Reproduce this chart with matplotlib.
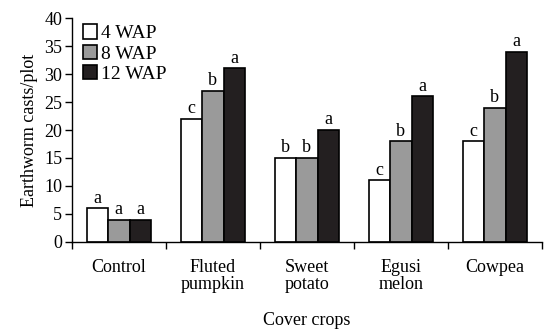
import matplotlib
matplotlib.use("Agg")
import matplotlib.pyplot as plt
import numpy as np
from matplotlib.patches import Patch

categories = ["Control", "Fluted\npumpkin", "Sweet\npotato", "Egusi\nmelon", "Cowpea"]
series_names = ["4 WAP", "8 WAP", "12 WAP"]
wap4 = [6, 22, 15, 11, 18]
wap8 = [4, 27, 15, 18, 24]
wap12 = [4, 31, 20, 26, 34]
letters4 = ["a", "c", "b", "c", "c"]
letters8 = ["a", "b", "b", "b", "b"]
letters12 = ["a", "a", "a", "a", "a"]

plt.rcParams['font.family'] = ['Liberation Serif', 'DejaVu Serif']

fig = plt.figure(figsize=(5.44, 3.30), dpi=100)
ax = fig.add_axes([0.132, 0.267, 0.864, 0.678])

colors = ["white", "#9a9a9a", "#231f20"]
series = [wap4, wap8, wap12]
lets = [letters4, letters8, letters12]
x = np.arange(len(categories))
w = 0.228
for i, (vals, col, lab, lt) in enumerate(zip(series, colors, series_names, lets)):
    pos = x + (i - 1) * w
    ax.bar(pos, vals, width=w, color=col, edgecolor="black", linewidth=1.2, label=lab)
    for p, v, l in zip(pos, vals, lt):
        ax.text(p, v + 0.3, l, ha="center", va="bottom", fontsize=13)

ax.set_xlim(-0.5, 4.5)
ax.set_ylim(0, 40)
ax.set_yticks(range(0, 41, 5))
ax.set_xticks(np.arange(-0.5, 4.6, 1.0))
ax.set_xticklabels([])
ax.set_xticks(x, minor=True)
ax.set_xticklabels(categories, minor=True, fontsize=13, linespacing=1.0)
ax.tick_params(axis="x", which="minor", length=0, pad=12)
ax.tick_params(axis="x", which="major", length=5, width=1, direction="out")
ax.tick_params(axis="y", length=5, width=1, direction="out", labelsize=13, pad=2)
for s in ["top", "right"]:
    ax.spines[s].set_visible(False)
for s in ["left", "bottom"]:
    ax.spines[s].set_linewidth(1.0)

ax.set_ylabel("Earthworm casts/plot", fontsize=13, labelpad=4)
ax.set_xlabel("Cover crops", fontsize=13, labelpad=14)

handles = [Patch(facecolor=c, edgecolor="black", linewidth=1.2) for c in colors]
leg = ax.legend(handles, series_names, loc="upper left", bbox_to_anchor=(0.0, 1.02),
                frameon=False, fontsize=14, handlelength=0.75, handleheight=0.75,
                handletextpad=0.2, labelspacing=0.12, borderaxespad=0.2, borderpad=0.35)

fig.savefig("out.png", dpi=100)
